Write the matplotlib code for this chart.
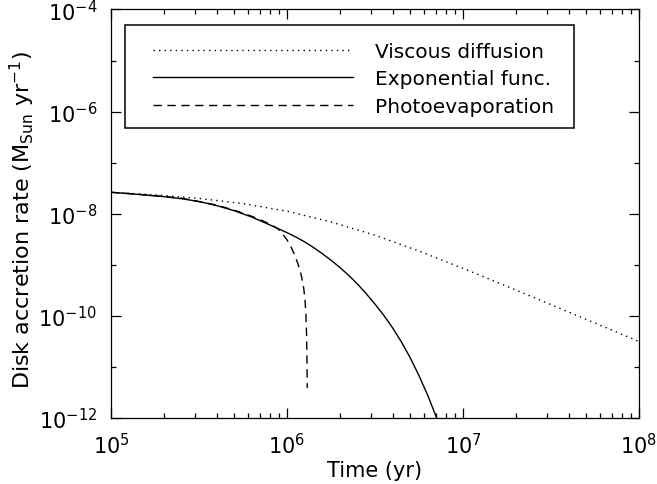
import numpy as np
import matplotlib
matplotlib.use('Agg')
import matplotlib.pyplot as plt
from matplotlib.patches import Rectangle
from matplotlib.ticker import LogLocator, FixedLocator, LogFormatterMathtext, NullFormatter

plt.rcParams['mathtext.default'] = 'regular'
plt.rcParams['font.family'] = 'DejaVu Sans'

# values, as log10(time / yr) and log10(rate / Msun yr^-1)
visc_logt = [5.0, 5.25, 5.5, 5.75, 6.0, 6.25, 6.5, 6.75, 7.0, 7.25, 7.5, 7.75, 8.0]
visc_logm = [-7.58, -7.63, -7.70, -7.80, -7.95, -8.16, -8.42, -8.73, -9.07, -9.42, -9.78, -10.14, -10.50]

expo_logt = [5.0, 5.1, 5.2, 5.3, 5.4, 5.5, 5.6, 5.7, 5.8, 5.9, 6.0, 6.05, 6.1, 6.15, 6.2,
             6.25, 6.3, 6.35, 6.4, 6.45, 6.5, 6.55, 6.6, 6.65, 6.7, 6.75, 6.8, 6.85, 6.9]
expo_logm = [-7.58, -7.605, -7.635, -7.665, -7.705, -7.76, -7.84, -7.94, -8.065, -8.215,
             -8.37, -8.455, -8.55, -8.66, -8.78, -8.91, -9.05, -9.205, -9.375, -9.565,
             -9.77, -9.99, -10.235, -10.51, -10.82, -11.17, -11.56, -11.995, -12.48]

photo_logt = [5.0, 5.2, 5.4, 5.6, 5.7, 5.8, 5.85, 5.9, 5.92, 5.95, 5.98, 6.0, 6.02, 6.04,
              6.06, 6.075, 6.085, 6.095, 6.102, 6.107, 6.111, 6.113, 6.115]
photo_logm = [-7.58, -7.63, -7.695, -7.83, -7.93, -8.05, -8.12, -8.20, -8.235, -8.30,
              -8.42, -8.51, -8.63, -8.78, -8.96, -9.12, -9.27, -9.46, -9.68, -9.95,
              -10.35, -10.80, -11.41]

labels = ['Viscous diffusion', 'Exponential func.', 'Photoevaporation']

fig = plt.figure(figsize=(6.57, 4.85), dpi=100)
ax = fig.add_axes([0.169, 0.136, 0.8036, 0.8424])

ax.plot(10**np.array(visc_logt), 10**np.array(visc_logm), color='k', lw=1.0,
        linestyle=(0, (1, 3)), label=labels[0])
ax.plot(10**np.array(expo_logt), 10**np.array(expo_logm), color='k', lw=1.0,
        linestyle='-', label=labels[1])
ax.plot(10**np.array(photo_logt), 10**np.array(photo_logm), color='k', lw=1.0,
        linestyle=(0, (6, 4)), label=labels[2])

ax.set_xscale('log')
ax.set_yscale('log')
ax.set_xlim(1e5, 1e8)
ax.set_ylim(1e-12, 1e-4)

ax.xaxis.set_major_locator(LogLocator(base=10, numticks=10))
ax.xaxis.set_minor_locator(LogLocator(base=10, subs=np.arange(2, 10), numticks=20))
ax.xaxis.set_minor_formatter(NullFormatter())
ax.xaxis.set_major_formatter(LogFormatterMathtext())
ax.yaxis.set_major_locator(FixedLocator([1e-12, 1e-10, 1e-8, 1e-6, 1e-4]))
ax.yaxis.set_minor_locator(FixedLocator([1e-11, 1e-9, 1e-7, 1e-5]))
ax.yaxis.set_minor_formatter(NullFormatter())
ax.yaxis.set_major_formatter(LogFormatterMathtext())

ax.tick_params(which='both', direction='in', top=True, right=True, width=0.9)
ax.tick_params(which='major', length=7, labelsize=15)
ax.tick_params(axis='x', which='major', pad=10)
ax.tick_params(axis='y', which='major', pad=10)
ax.tick_params(which='minor', length=3.5)
for s in ax.spines.values():
    s.set_linewidth(0.9)

ax.set_xlabel('Time (yr)', fontsize=15, va='center')
ax.set_ylabel('Disk accretion rate (M$_{Sun}$ yr$^{-1}$)', fontsize=16, va='center')
ax.xaxis.set_label_coords(0.5, -0.128)
ax.yaxis.set_label_coords(-0.168, 0.487)

# legend box drawn separately so the side margins can be wider than top/bottom
ax.add_patch(Rectangle((0.0265, 0.709), 0.8505, 0.252, transform=ax.transAxes,
                       facecolor='white', edgecolor='k', lw=1.1, zorder=4))
leg = ax.legend(loc='center left', bbox_to_anchor=(0.0795, 0.830), fontsize=14.5,
                handlelength=9.95, handletextpad=1.05, labelspacing=0.41,
                borderpad=0, borderaxespad=0, frameon=False)
leg.set_zorder(5)

fig.savefig('out.png', dpi=100)
